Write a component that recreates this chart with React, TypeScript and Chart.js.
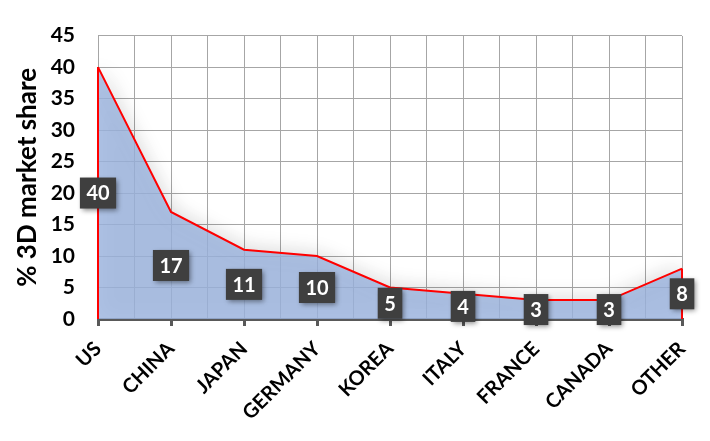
import React, { useEffect, useRef } from 'react';
import { Chart, registerables } from 'chart.js';

Chart.register(...registerables);

const categories = ['US', 'CHINA', 'JAPAN', 'GERMANY', 'KOREA', 'ITALY', 'FRANCE', 'CANADA', 'OTHER'];
const shares = [40, 17, 11, 10, 5, 4, 3, 3, 8];
const yMax = 45;
const yStep = 5;
const FONT = 'Lato, "Open Sans", sans-serif';

// soft shadow under the area, like the spreadsheet original
const glowPlugin = {
  id: 'glow',
  beforeDatasetsDraw(chart: any) {
    const ctx = chart.ctx;
    ctx.save();
    ctx.shadowColor = 'rgba(0, 0, 0, 0.2)';
    ctx.shadowBlur = 22;
  },
  afterDatasetsDraw(chart: any) {
    chart.ctx.restore();
  }
};

// red edges down to zero plus the dark value boxes
const edgesAndLabels = {
  id: 'edgesAndLabels',
  afterDatasetsDraw(chart: any) {
    const ctx = chart.ctx;
    const meta = chart.getDatasetMeta(0);
    const y = chart.scales.y;
    const pts = meta.data;
    const base = y.getPixelForValue(0);

    ctx.save();
    ctx.strokeStyle = '#ff0000';
    ctx.lineWidth = 2;
    [pts[0], pts[pts.length - 1]].forEach((p: any) => {
      ctx.beginPath();
      ctx.moveTo(p.x, p.y);
      ctx.lineTo(p.x, base);
      ctx.stroke();
    });

    ctx.font = `bold 20px ${FONT}`;
    ctx.textAlign = 'center';
    ctx.textBaseline = 'middle';
    shares.forEach((v, i) => {
      const cx = pts[i].x;
      const cy = y.getPixelForValue(v / 2);
      const text = String(v);
      const w = ctx.measureText(text).width + 13;
      const h = 31;
      ctx.save();
      ctx.shadowColor = 'rgba(0, 0, 0, 0.45)';
      ctx.shadowBlur = 5;
      ctx.shadowOffsetX = 2;
      ctx.shadowOffsetY = 2;
      ctx.fillStyle = '#3f3f3f';
      ctx.fillRect(cx - w / 2, cy - h / 2, w, h);
      ctx.restore();
      ctx.fillStyle = '#ffffff';
      ctx.fillText(text, cx, cy + 1);
    });
    ctx.restore();
  }
};

export default function App() {
  const canvasRef = useRef<HTMLCanvasElement>(null);

  useEffect(() => {
    document.body.style.margin = '0';
    if (!canvasRef.current) return;

    const chart = new Chart(canvasRef.current, {
      type: 'line',
      data: {
        labels: categories,
        datasets: [
          {
            data: shares,
            borderColor: '#ff0000',
            borderWidth: 2,
            backgroundColor: 'rgba(158, 182, 224, 0.82)',
            fill: 'origin',
            pointRadius: 0,
            tension: 0
          }
        ]
      },
      options: {
        animation: false,
        responsive: true,
        maintainAspectRatio: false,
        layout: { padding: { top: 24, right: 24, left: 0, bottom: 0 } },
        plugins: {
          legend: { display: false },
          tooltip: { enabled: false }
        },
        scales: {
          x: {
            type: 'category',
            offset: false,
            grid: {
              drawOnChartArea: false,
              drawTicks: true,
              tickLength: 7,
              color: '#595959',
              lineWidth: 3
            },
            border: { display: true, color: '#595959', width: 3 },
            ticks: {
              color: '#000000',
              font: { family: FONT, size: 20, weight: 'bold' },
              maxRotation: 45,
              minRotation: 45,
              padding: 11,
              autoSkip: false
            },
            afterFit(scale: any) {
              scale.height = 122;
            }
          },
          x2: {
            type: 'linear',
            position: 'top',
            min: 0,
            max: 16,
            grid: { color: '#a6a6a6', lineWidth: 1, drawTicks: false },
            border: { display: false },
            ticks: { display: false, stepSize: 1 },
            afterFit(scale: any) {
              scale.height = 0;
            }
          },
          y: {
            min: 0,
            max: yMax,
            grid: { color: '#a6a6a6', lineWidth: 1, drawTicks: false },
            border: { display: false },
            ticks: {
              stepSize: yStep,
              color: '#000000',
              padding: 23,
              font: { family: FONT, size: 21, weight: 'bold' }
            },
            title: {
              display: true,
              text: '% 3D market share',
              color: '#000000',
              font: { family: FONT, size: 26, weight: 'bold' },
              padding: { top: 12, bottom: 0 }
            },
            afterFit(scale: any) {
              scale.width = 98;
            }
          }
        }
      },
      plugins: [glowPlugin, edgesAndLabels]
    });

    return () => {
      chart.destroy();
    };
  }, []);

  return (
    <div style={{ width: 710, height: 441, position: 'relative' }}>
      <canvas ref={canvasRef}></canvas>
    </div>
  );
}
